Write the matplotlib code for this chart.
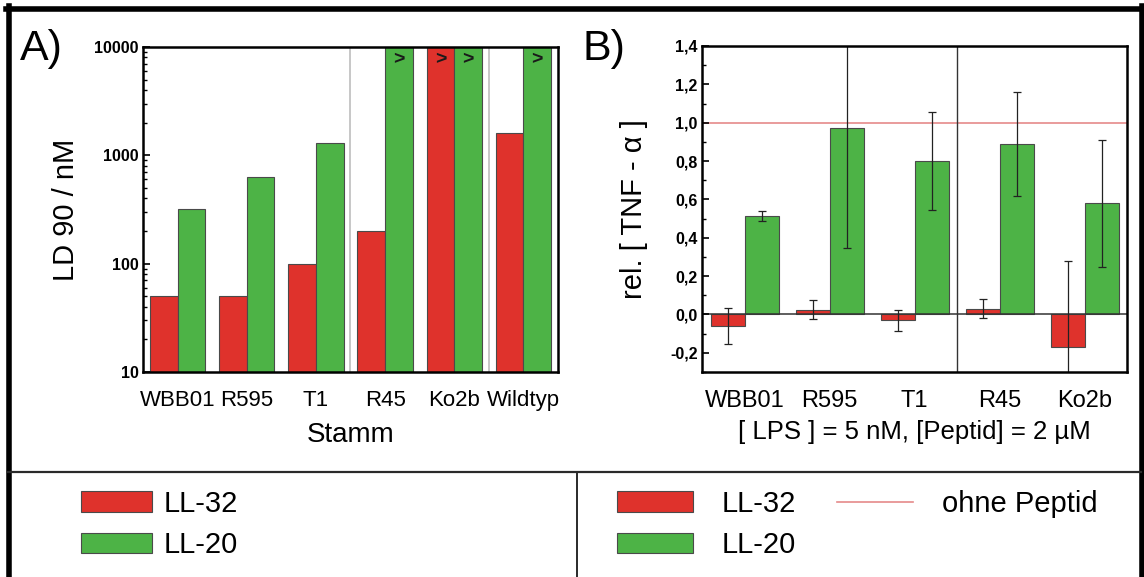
import numpy as np
import matplotlib
matplotlib.use('Agg')
import matplotlib.pyplot as plt
from matplotlib.lines import Line2D
from matplotlib.ticker import FuncFormatter, LogLocator, MultipleLocator, FixedLocator

plt.rcParams['font.family'] = ['Liberation Sans', 'DejaVu Sans']

# --- Daten ---
stamm_a = ['WBB01', 'R595', 'T1', 'R45', 'Ko2b', 'Wildtyp']
ld90_ll32 = [50, 50, 100, 200, 10000, 1600]
ld90_ll20 = [320, 630, 1300, 10000, 10000, 10000]

stamm_b = ['WBB01', 'R595', 'T1', 'R45', 'Ko2b']
tnf_ll32 = [-0.06, 0.025, -0.03, 0.03, -0.17]
tnf_ll32_err = [0.095, 0.05, 0.055, 0.05, 0.45]
tnf_ll20 = [0.515, 0.97, 0.80, 0.89, 0.58]
tnf_ll20_err = [0.025, 0.625, 0.255, 0.27, 0.33]
ohne_peptid = 1.0

rot = '#df322c'
gruen = '#4db346'
kante = '#4a4a4a'

W, H = 1144, 577
fig = plt.figure(figsize=(W / 100, H / 100), dpi=100)

# --- Teil A: LD90, logarithmisch ---
axA = fig.add_axes([143 / W, 1 - 372 / H, (558 - 143) / W, (372 - 47) / H])
axA.set_yscale('log')
xa = np.arange(len(stamm_a))
b1 = axA.bar(xa - 0.2, ld90_ll32, 0.4, color=rot, edgecolor=kante, linewidth=0.8, label='LL-32')
b2 = axA.bar(xa + 0.2, ld90_ll20, 0.4, color=gruen, edgecolor=kante, linewidth=0.8, label='LL-20')
axA.set_ylim(10, 10000)
axA.set_xlim(-0.5, len(stamm_a) - 0.5)
for xs in [2.5, 4.5]:
    axA.axvline(xs, color='#bdbdbd', lw=1.2, zorder=0)
# ">" fuer Werte ausserhalb des Messbereichs
for xpos, werte in [(xa - 0.2, ld90_ll32), (xa + 0.2, ld90_ll20)]:
    for xi, v in zip(xpos, werte):
        if v >= 10000:
            axA.annotate('>', (xi, v), xytext=(0, -9), textcoords='offset points',
                         ha='center', va='center', fontsize=14, fontweight='bold', color='#1a1a1a')

axA.yaxis.set_major_locator(FixedLocator([10, 100, 1000, 10000]))
axA.yaxis.set_major_formatter(FuncFormatter(lambda v, p: f'{int(round(v))}'))
axA.yaxis.set_minor_locator(LogLocator(base=10, subs=np.arange(2, 10)))
axA.yaxis.set_minor_formatter(FuncFormatter(lambda v, p: ''))
axA.tick_params(axis='y', which='major', direction='in', length=5, width=1.2, pad=3, labelsize=11.5)
axA.tick_params(axis='y', which='minor', direction='in', length=3, width=1)
for lab in axA.get_yticklabels():
    lab.set_fontweight('bold')
axA.set_xticks(xa)
axA.set_xticklabels(stamm_a)
axA.tick_params(axis='x', length=0, labelsize=16, pad=13)
axA.set_ylabel('LD 90 / nM', fontsize=21, labelpad=10)
axA.set_xlabel('Stamm', fontsize=20, labelpad=8)
for s in axA.spines.values():
    s.set_linewidth(1.8)

# --- Teil B: TNF-alpha ---
axB = fig.add_axes([702 / W, 1 - 372 / H, (1127 - 702) / W, (372 - 46) / H])
xb = np.arange(len(stamm_b))
c1 = axB.bar(xb - 0.2, tnf_ll32, 0.4, color=rot, edgecolor=kante, linewidth=0.8, label='LL-32')
c2 = axB.bar(xb + 0.2, tnf_ll20, 0.4, color=gruen, edgecolor=kante, linewidth=0.8, label='LL-20')
axB.errorbar(xb - 0.2, tnf_ll32, yerr=tnf_ll32_err, fmt='none', ecolor='#222222',
             elinewidth=0.9, capsize=3, capthick=0.9)
axB.errorbar(xb + 0.2, tnf_ll20, yerr=tnf_ll20_err, fmt='none', ecolor='#222222',
             elinewidth=0.9, capsize=3, capthick=0.9)
ref = axB.axhline(ohne_peptid, color='#e58a8a', lw=1.2, zorder=0, label='ohne Peptid')
axB.axhline(0, color='#333333', lw=1.1, zorder=1)
axB.axvline(2.5, color='#333333', lw=1.0, zorder=1)
axB.set_ylim(-0.3, 1.4)
axB.set_xlim(-0.5, len(stamm_b) - 0.5)
axB.set_yticks([-0.2, 0.0, 0.2, 0.4, 0.6, 0.8, 1.0, 1.2, 1.4])
axB.yaxis.set_major_formatter(FuncFormatter(lambda v, p: f'{round(v, 1) + 0:.1f}'.replace('.', ',')))
axB.yaxis.set_minor_locator(MultipleLocator(0.1))
axB.tick_params(axis='y', which='major', direction='in', length=5, width=1.2, pad=3, labelsize=11.5)
axB.tick_params(axis='y', which='minor', direction='in', length=3, width=1)
for lab in axB.get_yticklabels():
    lab.set_fontweight('bold')
axB.set_xticks(xb)
axB.set_xticklabels(stamm_b)
axB.tick_params(axis='x', length=0, labelsize=17, pad=13)
axB.set_ylabel('rel. [ TNF - \u03b1 ]', fontsize=21, labelpad=16)
axB.set_xlabel('[ LPS ] = 5 nM, [Peptid] = 2 \u00b5M', fontsize=18.5, labelpad=6)
for s in axB.spines.values():
    s.set_linewidth(1.8)

# --- Beschriftung A) / B) ---
fig.text(20 / W, 1 - 49 / H, 'A)', fontsize=31, va='center', ha='left')
fig.text(582 / W, 1 - 49 / H, 'B)', fontsize=31, va='center', ha='left')

# --- Legenden ---
fig.legend(handles=[b1, b2], loc='upper left', bbox_to_anchor=(81 / W, 1 - 490 / H),
           frameon=False, fontsize=21, handlelength=2.45, handleheight=0.72,
           handletextpad=0.38, labelspacing=0.45, borderpad=0, borderaxespad=0)
fig.legend(handles=[c1, c2, ref], loc='upper left', bbox_to_anchor=(617 / W, 1 - 490 / H),
           ncol=2, frameon=False, fontsize=21, handlelength=2.6, handleheight=0.72,
           handletextpad=1.0, labelspacing=0.45, columnspacing=1.4,
           borderpad=0, borderaxespad=0)

# --- Rahmen und Trennlinien ---
fig.add_artist(Line2D([8.5 / W, 8.5 / W], [0, 1 - 6 / H], color='black', lw=4, transform=fig.transFigure))
fig.add_artist(Line2D([6 / W, 1141.5 / W], [1 - 8.5 / H, 1 - 8.5 / H], color='black', lw=4, transform=fig.transFigure))
fig.add_artist(Line2D([1141.5 / W, 1141.5 / W], [0, 1 - 6 / H], color='black', lw=4, transform=fig.transFigure))
fig.add_artist(Line2D([8 / W, 1141 / W], [1 - 472 / H, 1 - 472 / H], color='#2a2a2a', lw=1.6, transform=fig.transFigure))
fig.add_artist(Line2D([577 / W, 577 / W], [0, 1 - 472 / H], color='#2a2a2a', lw=1.4, transform=fig.transFigure))

fig.savefig('out.png', dpi=100)
